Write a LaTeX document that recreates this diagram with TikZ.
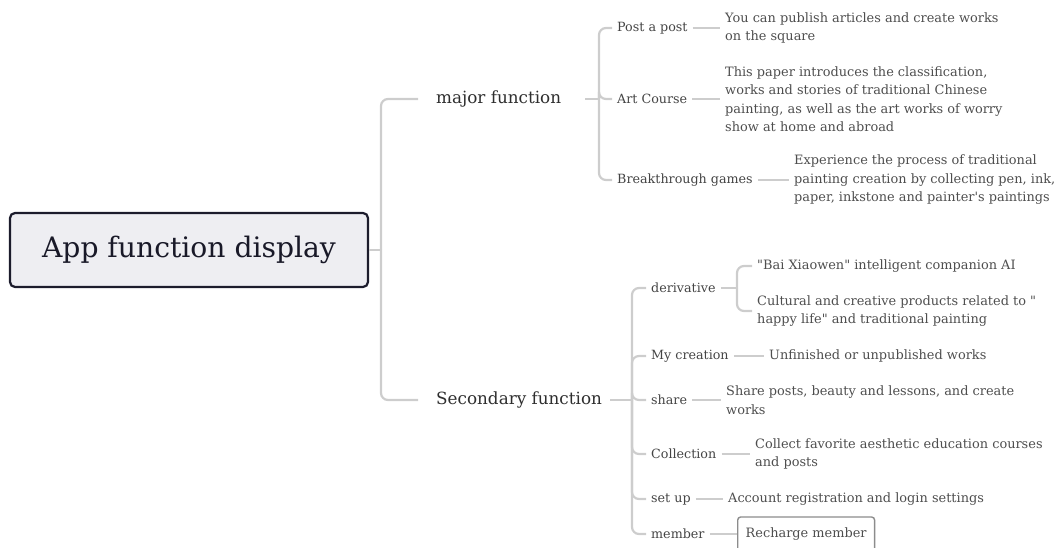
\documentclass[tikz,border=0pt]{standalone}
\usepackage{fontspec}
\setmainfont{DejaVu Serif}[Ligatures=TeXOff]
\definecolor{connc}{HTML}{CDCDCD}
\definecolor{rootfill}{HTML}{EEEEF2}
\definecolor{rootdraw}{HTML}{1C1C2C}
\definecolor{lvone}{HTML}{2E2E2E}
\definecolor{lvtwo}{HTML}{444444}
\definecolor{leafc}{HTML}{4E4E4E}
\definecolor{boxc}{HTML}{8C8C8C}
\tikzset{
  conn/.style={draw=connc, line width=2.2pt, rounded corners=7pt},
  rootbox/.style={draw=rootdraw, line width=2.2pt, fill=rootfill, rounded corners=5pt,
    minimum width=358pt, minimum height=74pt, font=\fontsize{28.2}{34}\selectfont, text=rootdraw!90!black},
  lvonenode/.style={anchor=west, inner sep=0pt, font=\fontsize{16.8}{20}\selectfont, text=lvone},
  lvtwonode/.style={anchor=west, inner xsep=5pt, inner ysep=0pt, font=\fontsize{12.7}{18.5}\selectfont, text=lvtwo},
  leafnode/.style={anchor=west, inner xsep=5pt, inner ysep=0pt, align=left,
    font=\fontsize{12.9}{18.5}\selectfont, text=leafc},
  leafbox/.style={anchor=west, draw=boxc, line width=1.4pt, rounded corners=3pt, inner xsep=8pt,
    minimum height=34pt, font=\fontsize{12.9}{18.5}\selectfont, text=leafc},
}
\begin{document}
\begin{tikzpicture}[x=1pt,y=-1pt]
\useasboundingbox (0,0) rectangle (1055,548);
\clip (0,0) rectangle (1055,548);

% root
\node[rootbox] (root) at (189,250) {App function display};

% first level
\node[lvonenode] (major) at (436,99) {major function};
\node[lvonenode] (second) at (436,400) {Secondary function};

% upper branch
\node[lvtwonode] (post) at (612,28) {Post a post};
\node[lvtwonode] (art) at (612,99) {Art Course};
\node[lvtwonode] (games) at (612,180) {Breakthrough games};

\node[leafnode] (postleaf) at (720,28) {You can publish articles and create works\\on the square};
\node[leafnode] (artleaf) at (720,99) {This paper introduces the classification,\\works and stories of traditional Chinese\\painting, as well as the art works of worry\\show at home and abroad};
\node[leafnode] (gamesleaf) at (789,180) {Experience the process of traditional\\painting creation by collecting pen, ink,\\paper, inkstone and painter's paintings};

% lower branch
\node[lvtwonode] (deriv) at (646,288) {derivative};
\node[lvtwonode] (mycre) at (646,356) {My creation};
\node[lvtwonode] (share) at (646,400) {share};
\node[lvtwonode] (coll) at (646,454) {Collection};
\node[lvtwonode] (setup) at (646,499) {set up};
\node[lvtwonode] (member) at (646,534) {member};

\node[leafnode] (bai) at (752,266) {"Bai Xiaowen" intelligent companion AI};
\node[leafnode] (cult) at (752,311) {Cultural and creative products related to "\\happy life" and traditional painting};
\node[leafnode] (unfin) at (764,356) {Unfinished or unpublished works};
\node[leafnode] (shareleaf) at (721,400) {Share posts, beauty and lessons, and create\\works};
\node[leafnode] (collleaf) at (750,454) {Collect favorite aesthetic education courses\\and posts};
\node[leafnode] (setleaf) at (723,499) {Account registration and login settings};
\node[leafbox] (recharge) at (737,534) {Recharge member};

% trunk points
\coordinate (t0) at (381,250);
\coordinate (t1) at (599,99);
\coordinate (t2) at (632,400);
\coordinate (t3) at (737,288);

% root connectors
\draw[conn] (root.east) -- (t0);
\draw[conn] (t0) |- ([xshift=-18pt]major.west);
\draw[conn] (t0) |- ([xshift=-18pt]second.west);

% upper connectors
\draw[conn] ([xshift=24pt]major.east) -- (t1);
\draw[conn] (t1) |- (post.west);
\draw[conn] (t1) |- (art.west);
\draw[conn] (t1) |- (games.west);
\draw[conn] (post.east) -- (postleaf.west);
\draw[conn] (art.east) -- (artleaf.west);
\draw[conn] (games.east) -- (gamesleaf.west);

% lower connectors
\draw[conn] ([xshift=8pt]second.east) -- (t2);
\foreach \c in {deriv,mycre,share,coll,setup,member}
  \draw[conn] (t2) |- (\c.west);
\draw[conn] (deriv.east) -- (t3);
\draw[conn] (t3) |- (bai.west);
\draw[conn] (t3) |- (cult.west);
\draw[conn] (mycre.east) -- (unfin.west);
\draw[conn] (share.east) -- (shareleaf.west);
\draw[conn] (coll.east) -- (collleaf.west);
\draw[conn] (setup.east) -- (setleaf.west);
\draw[conn] (member.east) -- (recharge.west);
\end{tikzpicture}
\end{document}
